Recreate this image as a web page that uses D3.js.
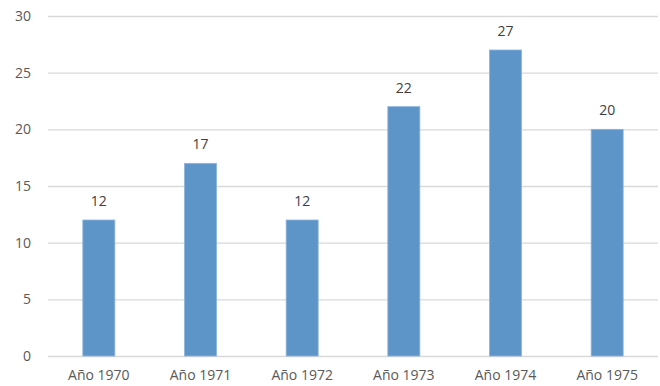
<!DOCTYPE html>
<html>
<head>
<meta charset="utf-8">
<script src="https://cdn.jsdelivr.net/npm/d3@7"></script>
<style>
  html, body { margin: 0; padding: 0; background: #fff; }
  svg { display: block; font-family: "Open Sans", "Liberation Sans", sans-serif; }
</style>
</head>
<body>
<svg id="chart" width="660" height="386"></svg>
<script>
const categories = ["Año 1970", "Año 1971", "Año 1972", "Año 1973", "Año 1974", "Año 1975"];
const values = [12, 17, 12, 22, 27, 20];
const yTicks = [0, 5, 10, 15, 20, 25, 30];

const svg = d3.select("#chart");
const margin = { top: 16, right: 2, bottom: 30, left: 48 };
const width = 660, height = 386;

const x = d3.scaleBand()
  .domain(categories)
  .range([margin.left, width - margin.right])
  .padding(0);

const y = d3.scaleLinear()
  .domain([0, 30])
  .range([height - margin.bottom, margin.top]);

const barW = x.step() * 0.315;

// horizontal gridlines
svg.append("g")
  .selectAll("line")
  .data(yTicks)
  .join("line")
  .attr("x1", margin.left)
  .attr("x2", width - margin.right)
  .attr("y1", d => y(d) + 0.5)
  .attr("y2", d => y(d) + 0.5)
  .attr("stroke", "#d9d9d9")
  .attr("stroke-width", 1.3);

// y axis labels
const yAxis = d3.axisLeft(y).tickValues(yTicks).tickSize(0).tickPadding(0);
svg.append("g")
  .attr("transform", `translate(${margin.left - 17},0)`)
  .call(yAxis)
  .call(g => g.select(".domain").remove())
  .call(g => g.selectAll("text")
    .attr("fill", "#595959")
    .attr("font-size", 14)
    .attr("font-family", "Open Sans, Liberation Sans, sans-serif"));

// x axis labels
const xAxis = d3.axisBottom(x).tickSize(0).tickPadding(0);
svg.append("g")
  .attr("transform", `translate(0,${height - 16})`)
  .call(xAxis)
  .call(g => g.select(".domain").remove())
  .call(g => g.selectAll("text")
    .attr("fill", "#595959")
    .attr("font-size", 14)
    .attr("font-family", "Open Sans, Liberation Sans, sans-serif"));

// bars
svg.append("g")
  .selectAll("rect")
  .data(values)
  .join("rect")
  .attr("x", (d, i) => x(categories[i]) + x.bandwidth() / 2 - barW / 2)
  .attr("y", d => y(d))
  .attr("width", barW)
  .attr("height", d => y(0) - y(d))
  .attr("fill", "#5E95C9")
  .attr("stroke", "#8DB4DC")
  .attr("stroke-width", 0.8);

// value labels
svg.append("g")
  .selectAll("text")
  .data(values)
  .join("text")
  .attr("x", (d, i) => x(categories[i]) + x.bandwidth() / 2)
  .attr("y", d => y(d) - 14)
  .attr("text-anchor", "middle")
  .attr("fill", "#404040")
  .attr("font-size", 14)
  .text(d => d);
</script>
</body>
</html>
